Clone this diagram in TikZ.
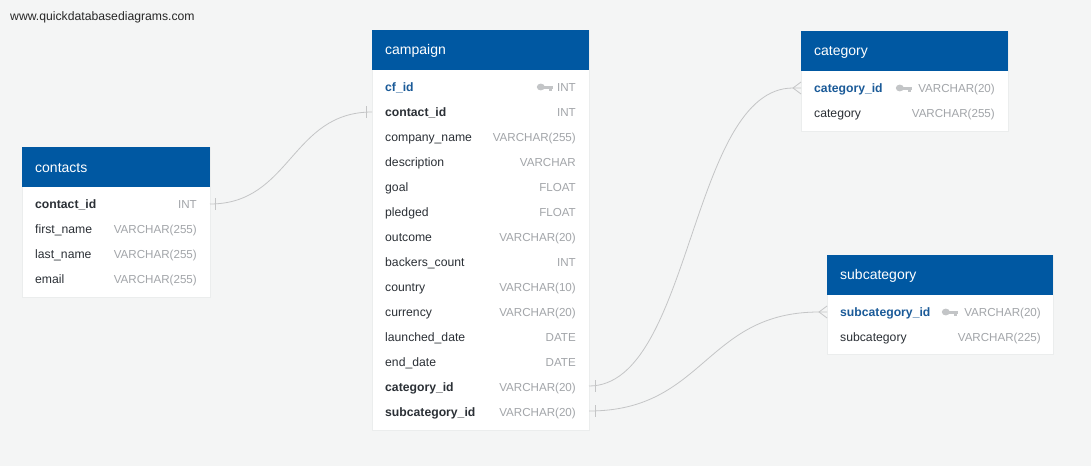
\documentclass[tikz,border=0pt]{standalone}
\usepackage{fontspec}
\setmainfont{Liberation Sans}
\definecolor{bg}{HTML}{F4F5F5}
\definecolor{hdr}{HTML}{0058A2}
\definecolor{pk}{HTML}{1A5A98}
\definecolor{nm}{HTML}{2B3036}
\definecolor{ty}{HTML}{A2A5A9}
\definecolor{ln}{HTML}{C4C5C6}
\definecolor{keyc}{HTML}{C3C5C7}
\definecolor{brd}{HTML}{EBEDED}
\tikzset{
  tbody/.style={fill=white, draw=brd, line width=0.5pt, inner sep=0pt, anchor=north west},
  thead/.style={fill=hdr, draw=none, inner sep=0pt, anchor=north west},
  hdtext/.style={text=white, font=\fontsize{14}{16}\selectfont, anchor=base west, inner sep=0pt, yshift=-4.5pt},
  col/.style={text=nm, font=\fontsize{12.2}{14}\selectfont, anchor=base west, inner sep=0pt, yshift=-4.3pt},
  colb/.style={col, font=\fontsize{12.2}{14}\selectfont\bfseries},
  colpk/.style={colb, text=pk},
  typ/.style={text=ty, font=\fontsize{11.6}{14}\selectfont, anchor=base east, inner sep=0pt, yshift=-4.3pt},
  rel/.style={draw=ln, line width=0.8pt},
  wm/.style={text=black!85, font=\fontsize{12.2}{14}\selectfont, anchor=base west, inner sep=0pt},
  pkey/.pic={
    \fill[keyc] (-4.2,0) ellipse (4pt and 3.4pt);
    \fill[keyc] (-1,-1.5) rectangle (8,1.5);
    \fill[keyc] (4.3,1) rectangle (6.6,3.8);
  }
}
\begin{document}
\begin{tikzpicture}[x=1pt,y=-1pt]
\fill[bg] (0,0) rectangle (1091,466);
\useasboundingbox (0,0) rectangle (1091,466);

\node[wm] (wm) at (10,20) {www.quickdatabasediagrams.com};

% ---------- contacts ----------
\node[tbody, minimum width=188pt, minimum height=150pt] (contacts) at (22,147) {};
\node[thead, minimum width=188pt, minimum height=40pt] (contacts-h) at (22,147) {};
\node[hdtext] (contacts-t) at (35,168) {contacts};
\node[colb] (ct-n1) at (35,204) {contact\_id};
\node[typ]  (ct-t1) at (197,204) {INT};
\node[col]  (ct-n2) at (35,229) {first\_name};
\node[typ]  (ct-t2) at (197,229) {VARCHAR(255)};
\node[col]  (ct-n3) at (35,254) {last\_name};
\node[typ]  (ct-t3) at (197,254) {VARCHAR(255)};
\node[col]  (ct-n4) at (35,279) {email};
\node[typ]  (ct-t4) at (197,279) {VARCHAR(255)};

% ---------- campaign ----------
\node[tbody, minimum width=217pt, minimum height=400pt] (campaign) at (372,30) {};
\node[thead, minimum width=217pt, minimum height=40pt] (campaign-h) at (372,30) {};
\node[hdtext] (campaign-t) at (385,50) {campaign};
\node[colpk] (cp-n1) at (385,87) {cf\_id};
\pic at (545,87) {pkey};
\node[typ] (cp-t1) at (576,87) {INT};
\node[colb] (cp-n2) at (385,112) {contact\_id};
\node[typ] (cp-t2) at (576,112) {INT};
\node[col] (cp-n3) at (385,137) {company\_name};
\node[typ] (cp-t3) at (576,137) {VARCHAR(255)};
\node[col] (cp-n4) at (385,162) {description};
\node[typ] (cp-t4) at (576,162) {VARCHAR};
\node[col] (cp-n5) at (385,187) {goal};
\node[typ] (cp-t5) at (576,187) {FLOAT};
\node[col] (cp-n6) at (385,212) {pledged};
\node[typ] (cp-t6) at (576,212) {FLOAT};
\node[col] (cp-n7) at (385,237) {outcome};
\node[typ] (cp-t7) at (576,237) {VARCHAR(20)};
\node[col] (cp-n8) at (385,262) {backers\_count};
\node[typ] (cp-t8) at (576,262) {INT};
\node[col] (cp-n9) at (385,287) {country};
\node[typ] (cp-t9) at (576,287) {VARCHAR(10)};
\node[col] (cp-n10) at (385,312) {currency};
\node[typ] (cp-t10) at (576,312) {VARCHAR(20)};
\node[col] (cp-n11) at (385,337) {launched\_date};
\node[typ] (cp-t11) at (576,337) {DATE};
\node[col] (cp-n12) at (385,362) {end\_date};
\node[typ] (cp-t12) at (576,362) {DATE};
\node[colb] (cp-n13) at (385,387) {category\_id};
\node[typ] (cp-t13) at (576,387) {VARCHAR(20)};
\node[colb] (cp-n14) at (385,412) {subcategory\_id};
\node[typ] (cp-t14) at (576,412) {VARCHAR(20)};

% ---------- category ----------
\node[tbody, minimum width=207pt, minimum height=100pt] (category) at (801,31) {};
\node[thead, minimum width=207pt, minimum height=40pt] (category-h) at (801,31) {};
\node[hdtext] (category-t) at (814,51) {category};
\node[colpk] (cg-n1) at (814,88) {category\_id};
\pic at (904,88) {pkey};
\node[typ] (cg-t1) at (995,88) {VARCHAR(20)};
\node[col] (cg-n2) at (814,113) {category};
\node[typ] (cg-t2) at (995,113) {VARCHAR(255)};

% ---------- subcategory ----------
\node[tbody, minimum width=226pt, minimum height=99pt] (subcategory) at (827,255) {};
\node[thead, minimum width=226pt, minimum height=40pt] (subcategory-h) at (827,255) {};
\node[hdtext] (subcategory-t) at (840,275) {subcategory};
\node[colpk] (sc-n1) at (840,312) {subcategory\_id};
\pic at (950,312) {pkey};
\node[typ] (sc-t1) at (1041,312) {VARCHAR(20)};
\node[col] (sc-n2) at (840,337) {subcategory};
\node[typ] (sc-t2) at (1041,337) {VARCHAR(225)};

% ---------- connection points ----------
\coordinate (ct-out) at (210,204);
\coordinate (cp-in) at (372,112);
\coordinate (cp-cat) at (589,386);
\coordinate (cp-sub) at (589,411);
\coordinate (cg-apex) at (793,88);
\coordinate (cg-in) at (801,88);
\coordinate (sc-apex) at (819,312);
\coordinate (sc-in) at (827,312);

% ---------- relationships ----------
\draw[rel] (ct-out) .. controls (291,204) and (291,112) .. (cp-in);
\draw[rel] ([xshift=5pt]ct-out) ++(0,-6) -- ++(0,12);
\draw[rel] ([xshift=-6pt]cp-in) ++(0,-6) -- ++(0,12);

\draw[rel] (cp-cat) .. controls (692,386) and (690,88) .. (cg-apex) -- (cg-in);
\draw[rel] ([xshift=6pt]cp-cat) ++(0,-6) -- ++(0,12);
\draw[rel] ([yshift=-6pt]cg-in) -- (cg-apex) -- ([yshift=6pt]cg-in);

\draw[rel] (cp-sub) .. controls (705,411) and (705,312) .. (sc-apex) -- (sc-in);
\draw[rel] ([xshift=6pt]cp-sub) ++(0,-6) -- ++(0,12);
\draw[rel] ([yshift=-6pt]sc-in) -- (sc-apex) -- ([yshift=6pt]sc-in);
\end{tikzpicture}
\end{document}
